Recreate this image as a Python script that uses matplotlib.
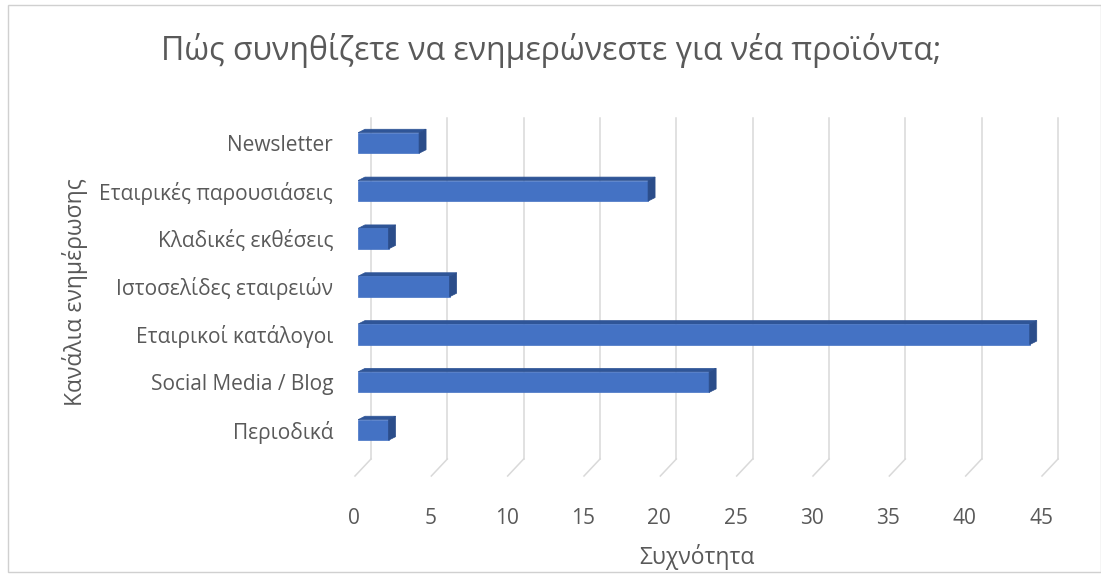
import matplotlib
matplotlib.use("Agg")
import matplotlib.pyplot as plt
from matplotlib.patches import Polygon, Rectangle
from matplotlib.transforms import ScaledTranslation
import numpy as np

plt.rcParams["font.family"] = ["Open Sans", "DejaVu Sans"]

TITLE = "Πώς συνηθίζετε να ενημερώνεστε για νέα προϊόντα;"
X_LABEL = "Συχνότητα"
Y_LABEL = "Κανάλια ενημέρωσης"

# top to bottom as shown on the axis
channels = [
    "Newsletter",
    "Εταιρικές παρουσιάσεις",
    "Κλαδικές εκθέσεις",
    "Ιστοσελίδες εταιρειών",
    "Εταιρικοί κατάλογοι",
    "Social Media / Blog",
    "Περιοδικά",
]
counts = [4, 19, 2, 6, 44, 23, 2]
x_ticks = [0, 5, 10, 15, 20, 25, 30, 35, 40, 45]

TEXT = "#595959"
GRID = "#d9d9d9"
FRONT = "#4472c4"
TOP = "#2f5597"
SIDE = "#2b4d8a"

W, H = 1101, 577
fig = plt.figure(figsize=(W / 100, H / 100), dpi=100)

# chart frame
fig.patches.append(Rectangle((8 / W, 1 - 572 / H), (W - 8) / W, (572 - 5) / H,
                             transform=fig.transFigure, fill=False,
                             edgecolor="#d0d0d0", lw=1.0))

# axes laid out so that value 0..45 spans the front edge of the bars
ax = fig.add_axes([358 / W, 1 - 480 / H, 687 / W, 380 / H])
ax.set_xlim(0, 45)
ax.set_ylim(7.046, -0.899)
for s in ax.spines.values():
    s.set_visible(False)
ax.patch.set_alpha(0)

px_x = 687 / 45.0          # pixels per unit value
px_y = 380 / 7.945         # pixels per category step

# pseudo 3D geometry (pixel distances turned into data units)
depth_dx = 7 / px_x
depth_dy = 3.5 / px_y
wall_dx = 13 / px_x
floor_front_dx = -3 / px_x
grid_top = (118 - 143) / px_y
floor_back = (459 - 143) / px_y
floor_front = (476 - 143) / px_y
bar_h = 20.5 / px_y

# back wall gridlines and floor ticks
for v in x_ticks:
    ax.plot([v + wall_dx, v + wall_dx], [grid_top, floor_back],
            color=GRID, lw=1.1, clip_on=False, zorder=1)
    ax.plot([v + floor_front_dx, v + wall_dx], [floor_front, floor_back],
            color=GRID, lw=1.1, clip_on=False, zorder=1)

ypos = np.arange(len(channels))
ax.barh(ypos, counts, height=bar_h, color=FRONT, edgecolor=FRONT,
        lw=0.5, zorder=3)

for y, c in zip(ypos, counts):
    top = y - bar_h / 2
    bot = y + bar_h / 2
    ax.add_patch(Polygon([(0, top), (depth_dx, top - depth_dy),
                          (c + depth_dx, top - depth_dy), (c, top)],
                         closed=True, facecolor=TOP, edgecolor=TOP,
                         lw=0.5, zorder=2))
    ax.add_patch(Polygon([(c, top), (c + depth_dx, top - depth_dy),
                          (c + depth_dx, bot - depth_dy), (c, bot)],
                         closed=True, facecolor=SIDE, edgecolor=SIDE,
                         lw=0.5, zorder=4))

ax.set_yticks(ypos, channels)
ax.set_xticks(x_ticks, [str(v) for v in x_ticks])
ax.tick_params(axis="y", length=0, pad=18, labelsize=15, labelcolor=TEXT)
ax.tick_params(axis="x", length=0, pad=20, labelsize=15, labelcolor=TEXT)
shift = ScaledTranslation(-4 / 100, 0, fig.dpi_scale_trans)
for lab in ax.get_xticklabels():
    lab.set_transform(lab.get_transform() + shift)

fig.text(551 / W, 1 - 51 / H, TITLE, ha="center", va="center",
         fontsize=23, color=TEXT)
fig.text(697 / W, 1 - 557 / H, X_LABEL, ha="center", va="center",
         fontsize=16.5, color=TEXT)
fig.text(75 / W, 1 - 292 / H, Y_LABEL, ha="center", va="center",
         rotation=90, fontsize=16.5, color=TEXT)

fig.savefig("out.png", dpi=100)
